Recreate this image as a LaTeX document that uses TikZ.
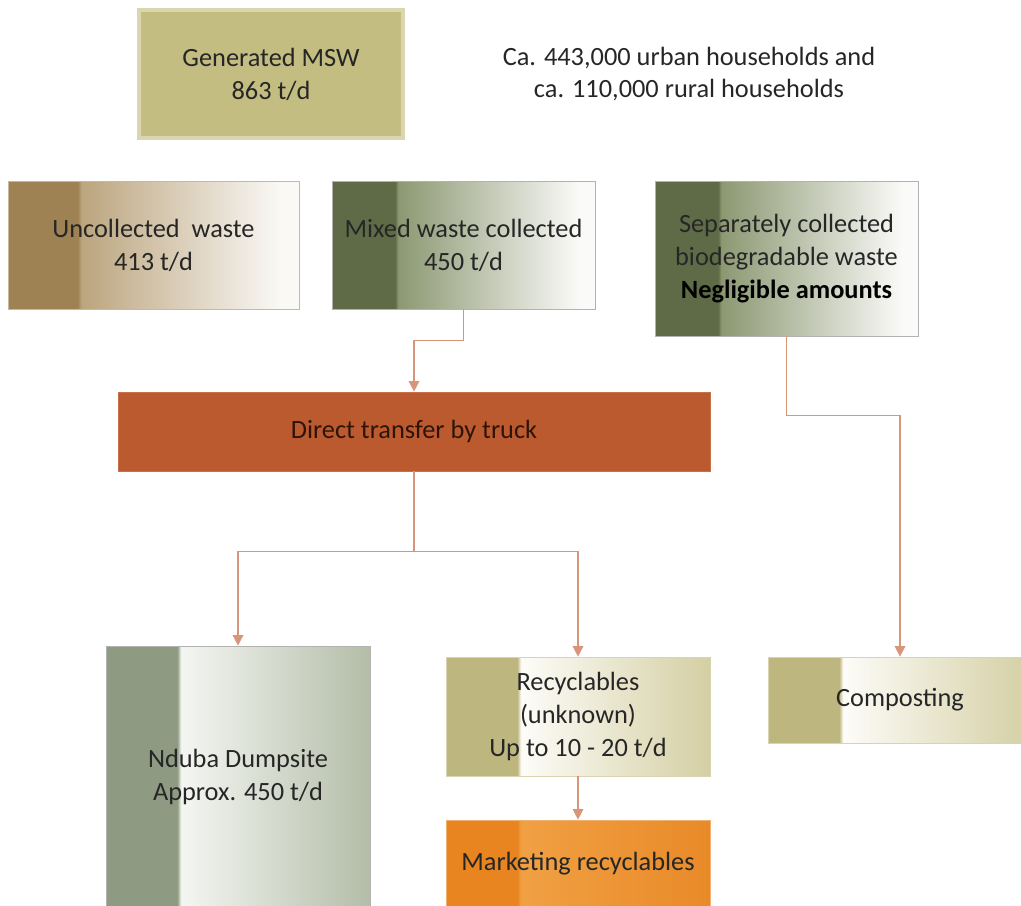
\documentclass[tikz,border=0pt]{standalone}
\usepackage{fontspec}
\setmainfont{Carlito}
\usetikzlibrary{arrows.meta}

\definecolor{gencol}{HTML}{C3BD82}
\definecolor{genborder}{HTML}{DAD7B0}
\definecolor{truckcol}{HTML}{BC5A2F}
\definecolor{truckborder}{HTML}{C8704A}
\definecolor{trucktxt}{HTML}{2E1408}
\definecolor{flowcol}{HTML}{D9957A}
\definecolor{txtcol}{HTML}{262626}
\definecolor{brownD}{HTML}{9E8254}
\definecolor{brownM}{HTML}{BCA57E}
\definecolor{brownL}{HTML}{FAF9F6}
\definecolor{brownB}{HTML}{C9B89C}
\definecolor{greenD}{HTML}{5F6B47}
\definecolor{greenM}{HTML}{8C9872}
\definecolor{greenL}{HTML}{FAFAF8}
\definecolor{greyD}{HTML}{8E9B82}
\definecolor{greyW}{HTML}{F4F6F2}
\definecolor{greyR}{HTML}{B4BDA8}
\definecolor{oliveD}{HTML}{BDB67F}
\definecolor{oliveW}{HTML}{FDFCF8}
\definecolor{oliveR}{HTML}{D4CFA3}
\definecolor{oliveB}{HTML}{D8D4B0}
\definecolor{orangeD}{HTML}{E88520}
\definecolor{orangeM}{HTML}{F0A043}
\definecolor{orangeR}{HTML}{E98A28}
\definecolor{orangeB}{HTML}{F0B070}

% shadings: dark band on the left, then a soft fade (box spans 25bp..75bp)
\pgfdeclarehorizontalshading{uncollshade}{100bp}{color(0bp)=(brownD); color(37bp)=(brownD); color(37.6bp)=(brownM); color(72bp)=(brownL); color(100bp)=(brownL)}
\pgfdeclarehorizontalshading{mixedshade}{100bp}{color(0bp)=(greenD); color(37bp)=(greenD); color(37.6bp)=(greenM); color(72bp)=(greenL); color(100bp)=(greenL)}
\pgfdeclarehorizontalshading{dumpshade}{100bp}{color(0bp)=(greyD); color(38.5bp)=(greyD); color(39.2bp)=(greyW); color(75bp)=(greyR); color(100bp)=(greyR)}
\pgfdeclarehorizontalshading{recycshade}{100bp}{color(0bp)=(oliveD); color(38.5bp)=(oliveD); color(39.2bp)=(oliveW); color(75bp)=(oliveR); color(100bp)=(oliveR)}
\pgfdeclarehorizontalshading{marketshade}{100bp}{color(0bp)=(orangeD); color(38.5bp)=(orangeD); color(39.2bp)=(orangeM); color(75bp)=(orangeR); color(100bp)=(orangeR)}

\begin{document}
\begin{tikzpicture}
[x=0.02cm,y=-0.02cm,
 every node/.style={font=\fontsize{15}{18.7}\selectfont,text=txtcol,align=center},
 wastebox/.style={shade,draw=black!30,thin},
 flowline/.style={-{Triangle[length=6pt,width=6pt]},flowcol,line width=0.8pt}]

\useasboundingbox (0,0) rectangle (1021,906);

% Generated waste
\node[fill=gencol,draw=genborder,line width=0.08cm,minimum width=5.28cm,minimum height=2.56cm](gen) at (271,74){Generated MSW\\863 t/d};
\node(house) at (689,74){Ca. 443,000 urban households and\\ca. 110,000 rural households};

% collection
\node[wastebox,shading=uncollshade,draw=brownB,minimum width=5.82cm,minimum height=2.56cm](uncoll) at (153.5,245){Uncollected\ \ waste\\413 t/d};
\node[wastebox,shading=mixedshade,minimum width=5.26cm,minimum height=2.56cm](mixed) at (463.5,245){Mixed waste collected\\450 t/d};
\node[wastebox,shading=mixedshade,minimum width=5.26cm,minimum height=3.1cm](sep) at (786.5,258.5){Separately collected\\biodegradable waste\\\textcolor{black}{\bfseries Negligible amounts}};

% transfer
\node[fill=truckcol,draw=truckborder,thin,text=trucktxt,minimum width=11.84cm,minimum height=1.58cm](truck) at (414,431.5){Direct transfer by truck};

% destinations
\node[wastebox,shading=dumpshade,minimum width=5.28cm,minimum height=5.24cm](dump) at (238,777){Nduba Dumpsite\\Approx. 450 t/d};
\node[wastebox,shading=recycshade,draw=oliveB,minimum width=5.28cm,minimum height=2.38cm](recyc) at (578,716.5){Recyclables\\(unknown)\\Up to 10 - 20 t/d};
\node[wastebox,shading=marketshade,draw=orangeB,minimum width=5.28cm,minimum height=1.76cm](market) at (578,864){Marketing recyclables};
\node[wastebox,shading=recycshade,draw=oliveB,minimum width=5.28cm,minimum height=1.72cm](compost) at (900,700){Composting};

% flows
\draw[flowline] (mixed.south) -- ++(0,31) -| (truck.north);
\draw[flowline] (truck.south) -- ++(0,80) coordinate (split) -| (dump.north);
\draw[flowline] (split) -| (recyc.north);
\draw[flowline] (sep.south) -- ++(0,79) -| (compost.north);
\draw[flowline] (recyc.south) -- (market.north);

\end{tikzpicture}
\end{document}
